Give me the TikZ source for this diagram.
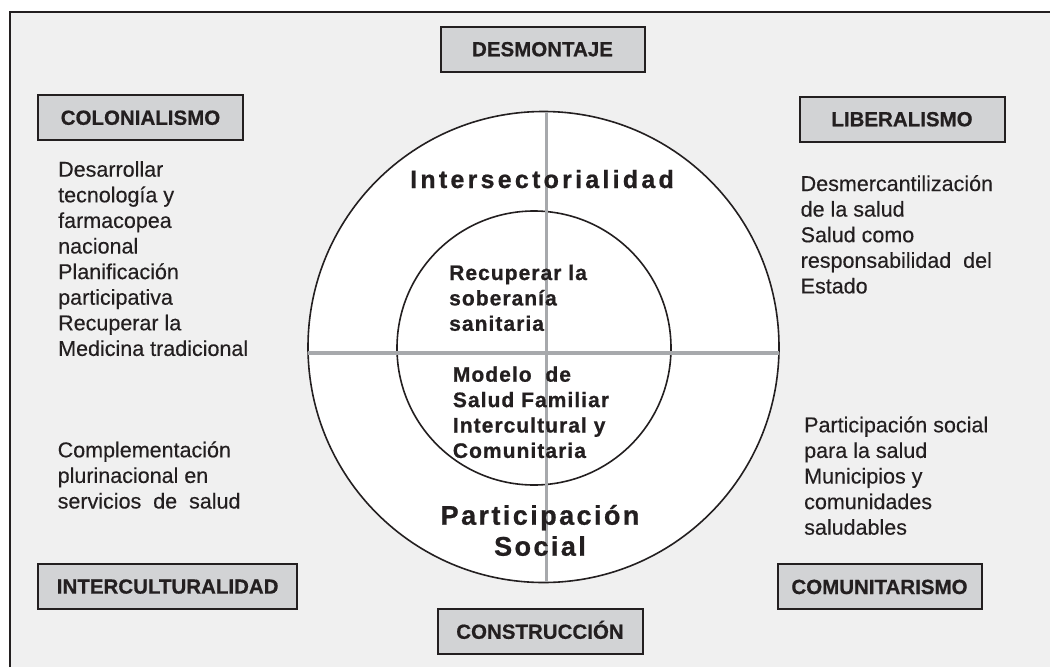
\documentclass[tikz,border=0pt]{standalone}
\usepackage{fontspec}
\setmainfont{Liberation Sans}
\definecolor{bg}{HTML}{F0F0F0}
\definecolor{boxfill}{HTML}{D2D3D5}
\definecolor{ink}{HTML}{231F20}
\definecolor{crossgray}{HTML}{A7A9AC}
\tikzset{
  labelbox/.style={draw=ink, line width=2pt, fill=boxfill, inner sep=0pt,
    minimum height=45pt, text=ink, text height=14.6pt, text depth=0pt,
    font=\fontsize{20.5}{24}\selectfont\bfseries\addfontfeature{FakeBold=0.6}},
  body/.style={anchor=base west, inner sep=0pt, text=ink,
    font=\fontsize{21.5}{25.6}\selectfont\addfontfeature{FakeBold=0.3}},
  inbody/.style={anchor=base west, inner sep=0pt, text=ink,
    font=\fontsize{21}{25.4}\selectfont\bfseries\addfontfeature{LetterSpace=5,FakeBold=0.8}},
  ringtitle/.style={anchor=base, inner sep=0pt, text=ink},
  ring/.style={draw=ink, line width=1.6pt},
  cross/.style={draw=crossgray, line width=3.5pt}
}
\begin{document}
\begin{tikzpicture}[x=1pt,y=-1pt]
\useasboundingbox (0,0) rectangle (1050,667);
\fill[white] (0,0) rectangle (1050,667);
\fill[bg] (10,12) rectangle (1050,667);
\coordinate (ftl) at (10,12);
\coordinate (ftr) at (1050,12);
\coordinate (fbl) at (10,667);
\draw[ink, line width=2.6pt] (fbl) -- (ftl) -- (ftr);

% circles
\node[ring, fill=white, circle, minimum size=471pt, inner sep=0pt] (outer) at (543.5,347) {};
\node[ring, circle, minimum size=274pt, inner sep=0pt] (inner) at (534,348) {};
% cross
\coordinate (vt) at (546.5,112);
\coordinate (vb) at (546.5,582);
\coordinate (hl) at (308,353);
\coordinate (hr) at (779,353);
\draw[cross] (vt) -- (vb);
\draw[cross] (hl) -- (hr);

% boxes
\node[labelbox, minimum width=204pt] (desm) at (542.5,49) {DESMONTAJE};
\node[labelbox, minimum width=205pt] (colon) at (140.5,117.5) {COLONIALISMO};
\node[labelbox, minimum width=205pt] (liber) at (902,119) {LIBERALISMO};
\node[labelbox, minimum width=259pt] (inter) at (167.7,586.3) {INTERCULTURALIDAD};
\node[labelbox, minimum width=205pt] (constr) at (540,631.5) {CONSTRUCCIÓN};
\node[labelbox, minimum width=204pt] (comun) at (879.5,586.7) {COMUNITARISMO};

% side texts
\node[body] (lt) at (58,176.7) {\begin{tabular}[t]{@{}l@{}}Desarrollar\\tecnología y\\farmacopea\\nacional\\Planificación\\participativa\\Recuperar la\\Medicina tradicional\end{tabular}};
\node[body] (lb) at (57.5,457.3) {\begin{tabular}[t]{@{}l@{}}Complementación\\plurinacional en\\servicios\ \ de\ \ salud\end{tabular}};
\node[body] (rt) at (800.5,191) {\begin{tabular}[t]{@{}l@{}}Desmercantilización\\de la salud\\Salud como\\responsabilidad\ \ del\\Estado\end{tabular}};
\node[body] (rb) at (804,432.3) {\begin{tabular}[t]{@{}l@{}}Participación\ social\\para la salud\\Municipios y\\comunidades\\saludables\end{tabular}};

% circle texts
\node[ringtitle, font=\fontsize{25}{30}\selectfont\bfseries\addfontfeature{LetterSpace=13,FakeBold=0.8}] (ints) at (542,188) {Intersectorialidad};
\node[ringtitle, font=\fontsize{27}{31}\selectfont\bfseries\addfontfeature{LetterSpace=9,FakeBold=0.8}] (part) at (540,524.7) {\begin{tabular}[t]{@{}c@{}}Participación\\Social\end{tabular}};
\node[inbody] (sob) at (449,280) {\begin{tabular}[t]{@{}l@{}}Recuperar\ la\\soberanía\\sanitaria\end{tabular}};
\node[inbody] (mod) at (452.7,381.7) {\begin{tabular}[t]{@{}l@{}}Modelo\ \ de\\Salud Familiar\\Intercultural\ y\\Comunitaria\end{tabular}};
\end{tikzpicture}
\end{document}
